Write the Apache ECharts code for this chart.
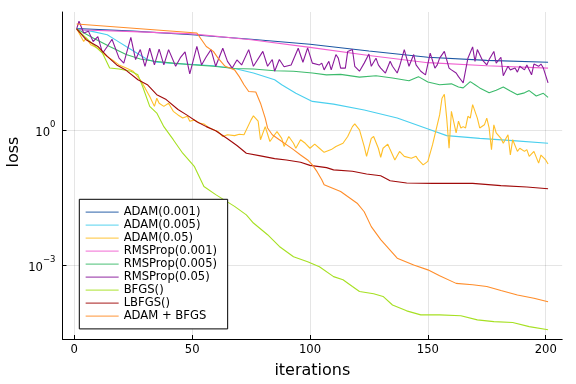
<!DOCTYPE html>
<html><head><meta charset="utf-8">
<script src="https://cdn.jsdelivr.net/npm/echarts@6/dist/echarts.min.js"></script>
<style>html,body{margin:0;padding:0;background:#fff}#c{width:576px;height:384px}</style>
</head><body><div id="c"></div>
<script>
// Series names (legend order)
const seriesNames = ['ADAM(0.001)','ADAM(0.005)','ADAM(0.05)','RMSProp(0.001)','RMSProp(0.005)','RMSProp(0.05)','BFGS()','LBFGS()','ADAM + BFGS'];
const seriesColors = ['#1c57a3','#49cfee','#ffbf28','#f060d0','#3dbb6c','#8a1a9b','#a6e022','#a00a0a','#ff8d2a'];

// Values: iteration and log10(loss)
const adam001X   = [1, 25, 50, 75, 100, 125, 150, 175, 201];
const adam001Log = [2.25, 2.19, 2.11, 2.01, 1.90, 1.75, 1.61, 1.54, 1.50];

const adam005X   = [1, 5, 8, 14, 18, 22, 27, 31, 35, 42, 51, 59, 68, 76, 85, 88, 94, 101, 110, 123, 137, 151, 158, 172, 186, 201];
const adam005Log = [2.24, 2.21, 2.18, 2.11, 1.98, 1.85, 1.69, 1.56, 1.50, 1.47, 1.45, 1.42, 1.36, 1.26, 1.11, 1.0, 0.81, 0.63, 0.57, 0.44, 0.26, 0.0, -0.13, -0.19, -0.24, -0.30];

const adam05X   = [1, 2, 4, 5, 7, 10, 12, 15, 17, 19, 22, 25, 28, 30, 32, 34, 35, 36, 38, 40, 42, 44, 46, 48, 49, 51, 53, 55, 57, 59, 61, 63, 65, 68, 70, 72, 75, 76, 78, 79, 81, 83, 85, 86, 88, 89, 91, 93, 94, 96, 98, 100, 102, 104, 106, 109, 111, 114, 116, 118, 119, 121, 123, 124, 126, 127, 129, 130, 131, 133, 134, 136, 138, 140, 143, 145, 146, 148, 150, 152, 155, 156, 157, 158, 159, 160, 162, 163, 164, 165, 166, 167, 168, 169, 171, 172, 174, 175, 176, 177, 178, 179, 181, 182, 184, 185, 186, 188, 189, 191, 192, 193, 195, 197, 198, 200, 201];
const adam05Log = [2.24, 2.15, 1.96, 2.04, 1.89, 1.81, 1.70, 1.59, 1.52, 1.44, 1.37, 1.30, 1.11, 0.93, 0.74, 0.52, 0.70, 0.59, 0.52, 0.59, 0.41, 0.33, 0.26, 0.30, 0.19, 0.22, 0.15, 0.13, 0.05, 0.0, -0.04, -0.15, -0.11, -0.13, -0.10, -0.11, 0.22, 0.31, 0.19, -0.22, 0.07, -0.26, -0.11, -0.04, -0.19, -0.37, -0.15, -0.30, -0.41, -0.22, -0.30, -0.41, -0.32, -0.41, -0.50, -0.44, -0.37, -0.30, -0.15, 0.07, 0.13, 0.0, -0.37, -0.59, -0.19, -0.15, -0.41, -0.61, -0.41, -0.32, -0.44, -0.67, -0.48, -0.59, -0.63, -0.59, -0.67, -0.78, -0.70, -0.33, 0.33, 0.70, 0.79, 0.26, -0.41, 0.41, -0.07, 0.19, 0.04, 0.07, 0.04, 0.30, 0.26, 0.56, 0.26, 0.04, 0.11, 0.26, 0.04, -0.44, 0.11, -0.07, -0.19, -0.30, -0.11, -0.56, -0.22, -0.48, -0.41, -0.48, -0.44, -0.59, -0.48, -0.74, -0.56, -0.67, -0.76];

const rms001X   = [1, 25, 50, 75, 100, 125, 150, 175, 201];
const rms001Log = [2.22, 2.18, 2.13, 2.00, 1.83, 1.65, 1.49, 1.42, 1.37];

const rms005X   = [1, 8, 15, 22, 28, 34, 42, 51, 59, 68, 76, 85, 93, 101, 107, 113, 121, 128, 135, 142, 146, 150, 155, 160, 163, 165, 168, 170, 172, 176, 179, 182, 185, 188, 191, 193, 196, 199, 201];
const rms005Log = [2.24, 2.04, 1.85, 1.67, 1.57, 1.52, 1.48, 1.44, 1.41, 1.36, 1.35, 1.31, 1.30, 1.26, 1.22, 1.23, 1.17, 1.20, 1.15, 1.09, 1.18, 1.06, 1.00, 1.02, 0.95, 0.93, 1.07, 1.00, 0.93, 0.82, 0.88, 0.95, 0.86, 0.78, 0.82, 0.87, 0.75, 0.81, 0.72];

const rms05X   = [1, 2, 4, 6, 8, 10, 12, 14, 16, 19, 21, 24, 26, 28, 30, 32, 34, 36, 38, 40, 43, 45, 47, 49, 52, 54, 56, 58, 60, 63, 65, 67, 69, 71, 74, 76, 80, 82, 84, 85, 87, 89, 92, 95, 97, 99, 101, 104, 105, 106, 108, 109, 111, 112, 113, 115, 116, 118, 119, 121, 123, 125, 126, 128, 129, 130, 132, 134, 135, 137, 138, 140, 141, 142, 144, 145, 147, 149, 151, 153, 154, 155, 157, 159, 160, 162, 163, 164, 165, 167, 169, 170, 171, 173, 175, 176, 178, 179, 181, 182, 184, 185, 187, 188, 189, 191, 192, 194, 195, 197, 198, 199, 201];
const rms05Log = [2.24, 2.41, 2.15, 2.19, 1.96, 2.07, 1.70, 1.85, 2.01, 1.59, 1.48, 2.05, 1.56, 1.78, 1.41, 1.81, 1.44, 1.79, 1.44, 1.78, 1.41, 1.60, 1.73, 1.24, 1.85, 1.44, 1.62, 1.78, 1.41, 1.81, 1.52, 1.37, 1.55, 1.44, 1.78, 1.41, 1.74, 1.41, 1.56, 1.30, 1.56, 1.40, 1.44, 1.81, 1.50, 1.82, 1.48, 1.44, 1.48, 1.33, 1.52, 1.33, 1.67, 1.59, 1.37, 1.37, 1.74, 1.78, 1.41, 1.30, 1.48, 1.68, 1.41, 1.59, 1.44, 1.37, 1.26, 1.52, 1.41, 1.26, 1.41, 1.78, 1.59, 1.41, 1.67, 1.44, 1.30, 1.22, 1.70, 1.37, 1.44, 1.59, 1.74, 1.37, 1.33, 1.26, 1.18, 1.11, 1.04, 1.59, 1.84, 1.52, 1.78, 1.56, 1.44, 1.56, 1.74, 1.48, 1.61, 1.20, 1.41, 1.33, 1.37, 1.28, 1.41, 1.33, 1.44, 1.22, 1.46, 1.41, 1.46, 1.37, 1.04];

const bfgsX   = [1, 5, 8, 12, 15, 19, 24, 27, 29, 32, 35, 38, 42, 46, 51, 55, 60, 68, 73, 76, 82, 87, 93, 99, 104, 110, 114, 118, 121, 127, 131, 135, 141, 147, 155, 164, 171, 178, 186, 193, 201];
const bfgsLog = [2.24, 2.04, 1.89, 1.70, 1.37, 1.35, 1.30, 1.22, 0.96, 0.52, 0.37, 0.07, -0.22, -0.52, -0.82, -1.26, -1.44, -1.70, -1.89, -2.07, -2.33, -2.59, -2.82, -2.93, -3.04, -3.26, -3.33, -3.48, -3.59, -3.64, -3.70, -3.89, -4.02, -4.11, -4.11, -4.13, -4.22, -4.26, -4.28, -4.37, -4.44];

const lbfgsX   = [1, 5, 10, 14, 18, 22, 27, 31, 35, 39, 44, 48, 52, 56, 60, 65, 69, 73, 79, 85, 90, 96, 100, 107, 110, 118, 124, 130, 134, 141, 152, 169, 181, 192, 201];
const lbfgsLog = [2.24, 2.00, 1.85, 1.63, 1.44, 1.32, 1.11, 1.00, 0.78, 0.67, 0.45, 0.32, 0.18, 0.07, -0.02, -0.20, -0.35, -0.52, -0.58, -0.64, -0.67, -0.72, -0.79, -0.84, -0.89, -0.92, -0.98, -1.02, -1.13, -1.18, -1.19, -1.19, -1.24, -1.27, -1.31];

const adamBfgsX   = [1, 52, 54, 56, 59, 61, 64, 66, 68, 70, 72, 74, 77, 79, 81, 82, 84, 87, 90, 93, 96, 99, 101, 103, 105, 106, 113, 120, 123, 126, 130, 137, 144, 150, 155, 162, 169, 175, 181, 188, 195, 201];
const adamBfgsLog = [2.35, 2.15, 2.0, 1.85, 1.74, 1.59, 1.41, 1.37, 1.33, 1.18, 1.0, 0.85, 0.84, 0.59, 0.26, 0.04, -0.11, -0.22, -0.33, -0.44, -0.56, -0.67, -0.78, -0.93, -1.11, -1.22, -1.37, -1.63, -1.82, -2.15, -2.44, -2.85, -3.0, -3.11, -3.24, -3.41, -3.44, -3.48, -3.57, -3.67, -3.74, -3.82];

const xTickValues = [0, 50, 100, 150, 200];
const yTickValues = [0.001, 1];

const seriesX = [adam001X, adam005X, adam05X, rms001X, rms005X, rms05X, bfgsX, lbfgsX, adamBfgsX];
const seriesLog = [adam001Log, adam005Log, adam05Log, rms001Log, rms005Log, rms05Log, bfgsLog, lbfgsLog, adamBfgsLog];

const FONT = 'DejaVu Sans';
const chart = echarts.init(document.getElementById('c'), null, {renderer: 'canvas'});
const series = seriesNames.map((name, i) => ({
  name: name,
  type: 'line',
  symbol: 'none',
  showSymbol: false,
  smooth: false,
  silent: true,
  color: seriesColors[i],
  lineStyle: {width: 1.1, color: seriesColors[i]},
  data: seriesX[i].map((x, j) => [x, Math.pow(10, seriesLog[i][j])])
}));

chart.setOption({
  animation: false,
  backgroundColor: '#fff',
  grid: {left: 62.5, right: 13.8, top: 12, bottom: 45, containLabel: false, outerBoundsMode: 'none'},
  legend: {
    orient: 'vertical', left: 79.3, top: 199.3,
    padding: [6.3, 10.6, 6.3, 5.7],
    itemWidth: 33, itemHeight: 13, itemGap: 0,
    itemStyle: {opacity: 0},
    lineStyle: {width: 1.3, opacity: 0.75},
    borderColor: '#000', borderWidth: 1, backgroundColor: '#fff', borderRadius: 0,
    textStyle: {fontFamily: FONT, fontSize: 11.6, color: '#000', lineHeight: 13},
    data: seriesNames
  },
  graphic: [{
    type: 'text', x: 14, y: 152, rotation: Math.PI / 2, silent: true,
    style: {text: 'loss', fontFamily: FONT, fontSize: 16, fill: '#000', align: 'center', verticalAlign: 'middle'}
  }],
  xAxis: {
    type: 'value', min: -5, max: 207,
    name: 'iterations', nameLocation: 'middle', nameGap: 24,
    nameTextStyle: {fontFamily: FONT, fontSize: 16, color: '#000'},
    axisLine: {show: true, onZero: false, lineStyle: {color: '#000', width: 1}},
    axisTick: {show: true, inside: true, length: 4, customValues: xTickValues, lineStyle: {color: '#000'}},
    axisLabel: {customValues: xTickValues, fontFamily: FONT, fontSize: 11.6, color: '#000', margin: 5},
    splitLine: {show: true, lineStyle: {color: 'rgba(0,0,0,0.1)', width: 1}}
  },
  yAxis: {
    type: 'log', logBase: 10, min: Math.pow(10, -4.645), max: Math.pow(10, 2.615),
    axisLine: {show: true, onZero: false, lineStyle: {color: '#000', width: 1}},
    axisTick: {show: true, inside: true, length: 4, customValues: yTickValues, lineStyle: {color: '#000'}},
    axisLabel: {
      customValues: yTickValues, margin: 7,
      formatter: function (v) {
        const e = Math.round(Math.log10(v));
        return '{b|10}{s|' + (e < 0 ? '\u2212' + (-e) : e) + '}';
      },
      rich: {
        b: {fontFamily: FONT, fontSize: 11.6, color: '#000', verticalAlign: 'bottom', lineHeight: 19},
        s: {fontFamily: FONT, fontSize: 8.5, color: '#000', verticalAlign: 'top', lineHeight: 10}
      }
    },
    splitLine: {show: true, lineStyle: {color: 'rgba(0,0,0,0.1)', width: 1}}
  },
  series: series
});
</script>
</body></html>
